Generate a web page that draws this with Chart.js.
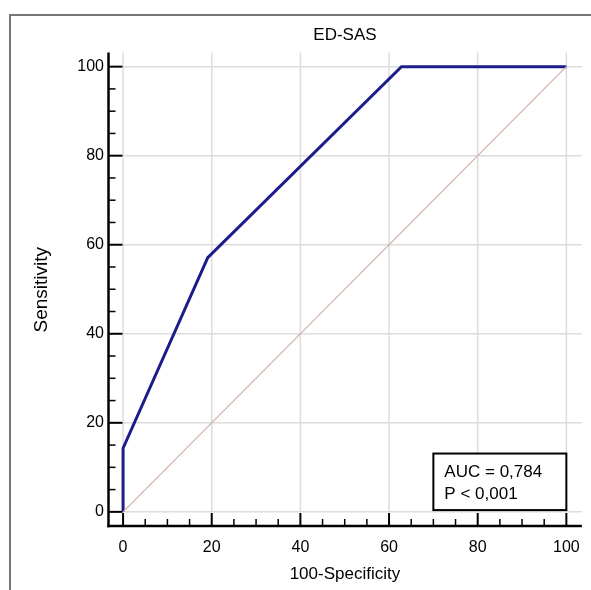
<!DOCTYPE html>
<html><head><meta charset="utf-8">
<script src="https://cdn.jsdelivr.net/npm/chart.js@4/dist/chart.umd.min.js"></script>
<style>html,body{margin:0;padding:0;background:#fff}#wrap{position:relative;width:591px;height:590px}</style>
</head><body><div id="wrap"><canvas id="c" width="591" height="590"></canvas></div>
<script>
const chartTitle = 'ED-SAS';
const xTitle = '100-Specificity';
const yTitle = 'Sensitivity';
const rocX = [0, 0, 19.1, 62.8, 100];
const rocY = [0, 14.3, 57.1, 100, 100];
const refX = [0, 100];
const refY = [0, 100];
const majorTicks = [0, 20, 40, 60, 80, 100];
const minorTicks = [5, 10, 15, 25, 30, 35, 45, 50, 55, 65, 70, 75, 85, 90, 95];
const statLines = ['AUC = 0,784', 'P < 0,001'];

const FONT = "'Liberation Sans', Arial, Helvetica, sans-serif";

const decor = {
  id: 'decor',
  beforeDatasetsDraw(chart) {
    const {ctx, chartArea: a, scales: {x, y}} = chart;
    ctx.save();
    ctx.strokeStyle = '#dcdcdc';
    ctx.lineWidth = 1.5;
    const y0 = y.getPixelForValue(0), x0 = x.getPixelForValue(0);
    majorTicks.forEach(v => {
      const px = x.getPixelForValue(v);
      ctx.beginPath(); ctx.moveTo(px, a.top); ctx.lineTo(px, y0); ctx.stroke();
      const py = y.getPixelForValue(v);
      ctx.beginPath(); ctx.moveTo(x0, py); ctx.lineTo(a.right, py); ctx.stroke();
    });
    ctx.restore();
  },
  afterDatasetsDraw(chart) {
    const {ctx, chartArea: a, scales: {x, y}} = chart;
    ctx.save();
    // frame
    ctx.strokeStyle = '#777';
    ctx.lineWidth = 2;
    ctx.beginPath(); ctx.moveTo(10, 590); ctx.lineTo(10, 15); ctx.lineTo(591, 15); ctx.stroke();
    // axes
    ctx.strokeStyle = '#000';
    ctx.lineWidth = 2.5;
    const axX = a.left + 0.5, axY = a.bottom - 1;
    ctx.beginPath(); ctx.moveTo(axX, a.top); ctx.lineTo(axX, axY + 1.25); ctx.stroke();
    ctx.beginPath(); ctx.moveTo(axX - 1.25, axY); ctx.lineTo(a.right, axY); ctx.stroke();
    ctx.lineWidth = 2;
    majorTicks.forEach(v => {
      const px = x.getPixelForValue(v);
      ctx.beginPath(); ctx.moveTo(px, axY); ctx.lineTo(px, axY - 13); ctx.stroke();
      const py = y.getPixelForValue(v);
      ctx.beginPath(); ctx.moveTo(axX, py); ctx.lineTo(axX + 14, py); ctx.stroke();
    });
    ctx.lineWidth = 1.5;
    minorTicks.forEach(v => {
      const px = x.getPixelForValue(v);
      ctx.beginPath(); ctx.moveTo(px, axY); ctx.lineTo(px, axY - 7); ctx.stroke();
      const py = y.getPixelForValue(v);
      ctx.beginPath(); ctx.moveTo(axX, py); ctx.lineTo(axX + 7, py); ctx.stroke();
    });
    // stats box
    const bl = x.getPixelForValue(70), br = x.getPixelForValue(100);
    const bt = y.getPixelForValue(13.1), bb = y.getPixelForValue(0.4);
    ctx.fillStyle = '#fff';
    ctx.fillRect(bl, bt, br - bl, bb - bt);
    ctx.strokeStyle = '#000';
    ctx.lineWidth = 2;
    ctx.strokeRect(bl, bt, br - bl, bb - bt);
    ctx.fillStyle = '#000';
    ctx.font = '17px ' + FONT;
    ctx.textBaseline = 'middle';
    ctx.textAlign = 'left';
    ctx.fillText(statLines[0], bl + 11, bt + 19);
    ctx.fillText(statLines[1], bl + 11, bt + 41);
    ctx.restore();
  }
};

const tickFont = {family: FONT, size: 16};
const titleFont = {family: FONT, size: 17};

new Chart(document.getElementById('c'), {
  type: 'scatter',
  data: {
    datasets: [
      {
        data: refX.map((v, i) => ({x: v, y: refY[i]})),
        showLine: true, borderColor: '#d2aea6', borderWidth: 1.2,
        pointRadius: 0, fill: false
      },
      {
        data: rocX.map((v, i) => ({x: v, y: rocY[i]})),
        showLine: true, borderColor: '#1c1c8a', borderWidth: 3,
        pointRadius: 0, fill: false
      }
    ]
  },
  options: {
    responsive: false,
    devicePixelRatio: 1,
    animation: false,
    layout: {padding: {left: 28, right: 6, top: 25, bottom: 0}},
    plugins: {
      legend: {display: false},
      tooltip: {enabled: false},
      title: {
        display: true, text: chartTitle, fullSize: false, color: '#000',
        font: {family: FONT, size: 17, weight: 'normal'},
        padding: {top: 0, bottom: 7}
      }
    },
    scales: {
      x: {
        type: 'linear', min: -3.4, max: 103.5,
        afterBuildTicks: s => { s.ticks = majorTicks.map(v => ({value: v})); },
        afterFit: s => { s.height = 63; },
        grid: {display: false, drawTicks: false},
        border: {display: false},
        ticks: {font: tickFont, color: '#000', padding: 11, maxRotation: 0, autoSkip: false},
        title: {display: true, text: xTitle, color: '#000', font: titleFont, padding: {top: 0, bottom: 5}}
      },
      y: {
        type: 'linear', min: -3.4, max: 103.2,
        afterBuildTicks: s => { s.ticks = majorTicks.map(v => ({value: v})); },
        afterFit: s => { s.width = 80; },
        grid: {display: false, drawTicks: false},
        border: {display: false},
        ticks: {font: tickFont, color: '#000', padding: 4, autoSkip: false},
        title: {display: true, text: yTitle, color: '#000', font: {family: FONT, size: 19}, padding: {top: 2, bottom: 0}}
      }
    }
  },
  plugins: [decor]
});
</script>
</body></html>
